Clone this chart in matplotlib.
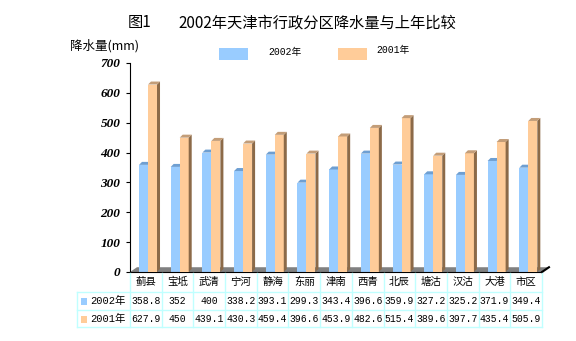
import numpy as np
import matplotlib.pyplot as plt
from matplotlib.patches import Polygon, Rectangle
from matplotlib.lines import Line2D

# data
districts = ['蓟县', '宝坻', '武清', '宁河', '静海', '东丽', '津南', '西青',
             '北辰', '塘沽', '汉沽', '大港', '市区']
rain_2002 = [358.8, 352, 400, 338.2, 393.1, 299.3, 343.4, 396.6, 359.9, 327.2, 325.2, 371.9, 349.4]
rain_2001 = [627.9, 450, 439.1, 430.3, 459.4, 396.6, 453.9, 482.6, 515.4, 389.6, 397.7, 435.4, 505.9]
txt_2002 = ['358.8', '352', '400', '338.2', '393.1', '299.3', '343.4', '396.6',
            '359.9', '327.2', '325.2', '371.9', '349.4']
txt_2001 = ['627.9', '450', '439.1', '430.3', '459.4', '396.6', '453.9', '482.6',
            '515.4', '389.6', '397.7', '435.4', '505.9']
series = ['2002年', '2001年']
yticks = [0, 100, 200, 300, 400, 500, 600, 700]

c_blue = '#99CCFF'
c_orange = '#FFCC99'
c_grid = '#C0FFFF'
cjk = ['Noto Sans CJK SC', 'DejaVu Sans']
mono = ['Liberation Mono', 'Noto Sans CJK SC']

W, H = 576, 341
fig = plt.figure(figsize=(W / 100, H / 100), dpi=100)

def fx(px):
    return px / W

def fy(py):
    return 1 - py / H

ax = fig.add_axes([fx(130), fy(272), (542 - 130) / W, (272 - 63) / H])
ax.set_xlim(-0.5, 12.5)
ax.set_ylim(0, 700)

x = np.arange(len(districts))
bw = 0.284
dx = 0.095   # fake 3D depth
dy = 10

# floor
floor = Polygon([(-0.5, 0), (-0.28, 16), (12.72, 16), (12.5, 0)], closed=True,
                facecolor='#808080', edgecolor='none', clip_on=False, zorder=1)
ax.add_patch(floor)
ax.plot([12.5, 12.72], [0, 16], color='black', lw=1.5, clip_on=False, zorder=1)

# bars
ax.bar(x - 0.216, rain_2002, width=bw, align='edge', color=c_blue, zorder=2)
for xi, v in zip(x - 0.216, rain_2002):
    ax.add_patch(Polygon([(xi, v), (xi + dx, v + dy), (xi + bw + dx, v + dy), (xi + bw, v)],
                         facecolor='#6E9FD2', edgecolor='none', zorder=2))
ax.bar(x + 0.068, rain_2001, width=bw, align='edge', color=c_orange, zorder=3)
for xi, v in zip(x + 0.068, rain_2001):
    ax.add_patch(Polygon([(xi + bw, 0), (xi + bw + dx, dy), (xi + bw + dx, v + dy), (xi + bw, v)],
                         facecolor='#8C6A48', edgecolor='none', zorder=3))
    ax.add_patch(Polygon([(xi, v), (xi + dx, v + dy), (xi + bw + dx, v + dy), (xi + bw, v)],
                         facecolor='#C39D78', edgecolor='none', zorder=3))

for s in ['top', 'right']:
    ax.spines[s].set_visible(False)
ax.spines['left'].set_color('black')
ax.spines['bottom'].set_color('black')
ax.set_xticks([])
ax.set_yticks(yticks)
ax.set_yticklabels([str(t) for t in yticks], family='Liberation Serif',
                   weight='bold', style='italic', fontsize=9.5)
ax.tick_params(axis='y', length=3, width=0.8, pad=4)

# titles
fig.text(fx(128), fy(23), '图1', family=cjk, fontsize=11, ha='left', va='center')
fig.text(fx(178), fy(23), '2002年天津市行政分区降水量与上年比较', family=cjk,
         fontsize=11, ha='left', va='center')
fig.text(fx(70), fy(46), '降水量(mm)', family=cjk, fontsize=9, ha='left', va='center')

# legend
fig.patches.append(Rectangle((fx(219), fy(60)), 29 / W, 12 / H, transform=fig.transFigure,
                             facecolor=c_blue, edgecolor='none'))
fig.patches.append(Rectangle((fx(338), fy(60)), 29 / W, 12 / H, transform=fig.transFigure,
                             facecolor=c_orange, edgecolor='none'))
fig.text(fx(268), fy(52), series[0], family=mono, fontsize=7, ha='left', va='center')
fig.text(fx(376), fy(50), series[1], family=mono, fontsize=7, ha='left', va='center')

# data table
x0, x1, lab0 = 130, 542, 77
rows_y = [273, 292, 310, 327]
cw = (x1 - x0) / len(districts)

def hline(y, a, b):
    fig.lines.append(Line2D([fx(a), fx(b)], [fy(y), fy(y)], transform=fig.transFigure,
                            color=c_grid, lw=1))

def vline(xp, a, b):
    fig.lines.append(Line2D([fx(xp), fx(xp)], [fy(a), fy(b)], transform=fig.transFigure,
                            color=c_grid, lw=1))

for y in rows_y[1:]:
    hline(y, lab0, x1)
for i in range(len(districts) + 1):
    vline(x0 + i * cw, rows_y[0], rows_y[3])
vline(lab0, rows_y[1], rows_y[3])

for i, name in enumerate(districts):
    cx = x0 + (i + 0.5) * cw
    fig.text(fx(cx), fy(282), name, family=cjk, fontsize=7.5, ha='center', va='center')
    fig.text(fx(cx), fy(301), txt_2002[i], family=mono, fontsize=7, ha='center', va='center')
    fig.text(fx(cx), fy(319), txt_2001[i], family=mono, fontsize=7, ha='center', va='center')

for yc, col, lab in [(301, c_blue, series[0]), (319, c_orange, series[1])]:
    fig.patches.append(Rectangle((fx(81), fy(yc + 3.5)), 6 / W, 7 / H,
                                 transform=fig.transFigure, facecolor=col, edgecolor='none'))
    fig.text(fx(90), fy(yc), lab, family=mono, fontsize=7.5, ha='left', va='center')

fig.savefig('out.png', dpi=100)
